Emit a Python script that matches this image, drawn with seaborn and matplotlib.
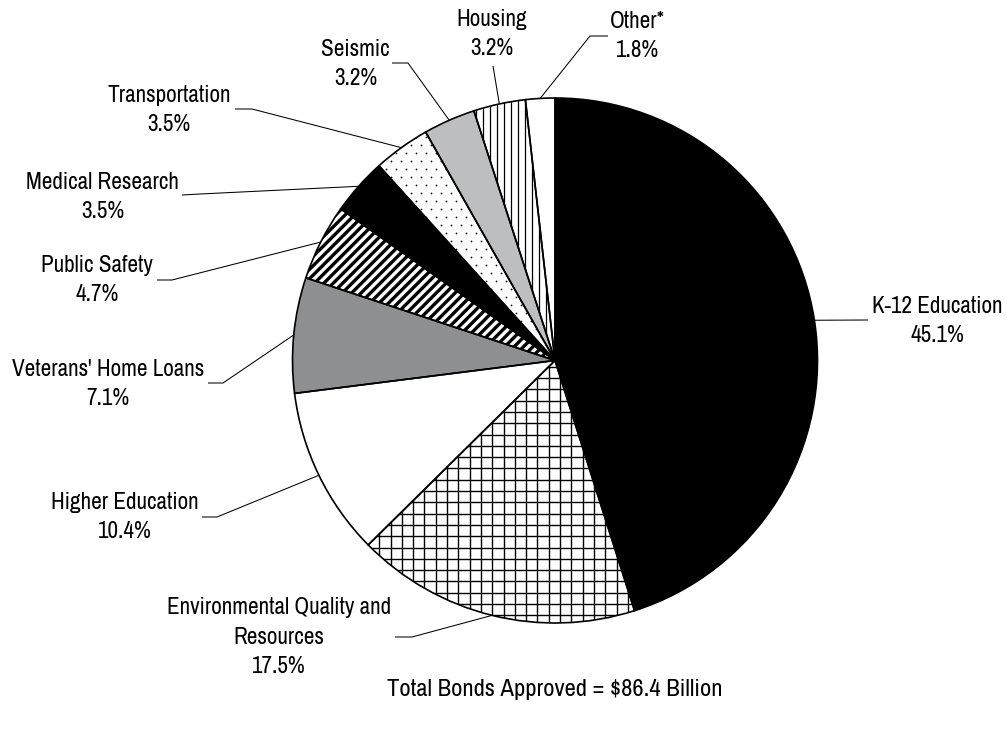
import numpy as np
import matplotlib
matplotlib.use("Agg")
import matplotlib.pyplot as plt
from matplotlib import font_manager
from matplotlib.collections import LineCollection
import seaborn as sns

# Bond approvals by purpose, in percent of total
categories = ["K-12 Education", "Environmental Quality and\nResources", "Higher Education",
              "Veterans' Home Loans", "Public Safety", "Medical Research", "Transportation",
              "Seismic", "Housing", "Other*"]
shares = [45.1, 17.5, 10.4, 7.1, 4.7, 3.5, 3.5, 3.2, 3.2, 1.8]
share_labels = ["45.1%", "17.5%", "10.4%", "7.1%", "4.7%", "3.5%", "3.5%", "3.2%", "3.2%", "1.8%"]
total_note = "Total Bonds Approved = $86.4 Billion"

fills = ["black", "white", "white", "#8d8f90", "white", "black", "white", "#bdbebf", "white", "white"]
patterns = [None, "grid", None, None, "stripes", None, "dots", None, "vlines", None]

sns.set_theme(style="white")

# prefer a narrow sans face when one is installed
fonts = font_manager.fontManager.ttflist
names = {f.name for f in fonts}
narrow = [f for f in fonts
          if ("Narrow" in f.name or "Narrow" in f.fname) and f.style == "normal" and f.weight in (400, "normal")]
if "Liberation Sans Narrow" in names:
    plt.rcParams["font.family"] = ["Liberation Sans Narrow", "DejaVu Sans"]
    FS, LS = 16.7, 1.5
elif narrow:
    plt.rcParams["font.family"] = [narrow[0].name, "DejaVu Sans"]
    FS, LS = 16.7, 1.5
else:
    plt.rcParams["font.family"] = ["Liberation Sans", "DejaVu Sans"]
    FS, LS = 14.7, 1.6

W, H = 1007, 732
CX, CY, R = 555.0, 360.5, 262.5


def px(x, y):
    return (x - CX) / R, (CY - y) / R


fig = plt.figure(figsize=(W / 100, H / 100), dpi=100)
ax = fig.add_axes([0, 0, 1, 1])

wedges, _ = ax.pie(shares, colors=fills, startangle=90, counterclock=False, radius=1,
                   wedgeprops=dict(edgecolor="none", linewidth=0))

# fill patterns clipped to their wedges
unit = 1.0 / R
for w, pat in zip(wedges, patterns):
    if pat is None:
        continue
    if pat == "grid":
        step = 11.3 * unit
        vals = np.arange(-1.1, 1.1, step)
        segs = [[(v, -1.1), (v, 1.1)] for v in vals] + [[(-1.1, v), (1.1, v)] for v in vals]
        lc = LineCollection(segs, colors="black", linewidths=1.0, zorder=3)
    elif pat == "stripes":
        step = 9.4 * unit
        vals = np.arange(-2.5, 2.5, step)
        segs = [[(v - 1.2, -1.2), (v + 1.2, 1.2)] for v in vals]
        lc = LineCollection(segs, colors="black", linewidths=2.4, zorder=3)
    elif pat == "vlines":
        step = 7.0 * unit
        vals = np.arange(-1.1, 1.1, step)
        segs = [[(v, -1.1), (v, 1.1)] for v in vals]
        lc = LineCollection(segs, colors="black", linewidths=0.9, zorder=3)
    elif pat == "dots":
        sx, sy = 10.0 * unit, 8.0 * unit
        pts = []
        for i, yy in enumerate(np.arange(-1.1, 1.1, sy)):
            off = (sx / 2) if i % 2 else 0.0
            for xx in np.arange(-1.1, 1.1, sx):
                pts.append((xx + off, yy))
        pts = np.array(pts)
        sc = ax.scatter(pts[:, 0], pts[:, 1], s=1.6, c="black", linewidths=0, zorder=3)
        sc.set_clip_path(w)
        continue
    ax.add_collection(lc)
    lc.set_clip_path(w)

# wedge outlines on top of the patterns
ax.pie(shares, colors=["none"] * len(shares), startangle=90, counterclock=False, radius=1,
       wedgeprops=dict(edgecolor="black", linewidth=1.2, zorder=4, fill=False))

# label layout: text point (px), alignment, elbow (px), end of horizontal tick (px)
layout = [
    ((872, 321), "left", None, None),
    ((391, 637), "right", (412, 637), (395, 637)),
    ((199, 517), "right", (217, 517), (202, 517)),
    ((204, 384), "right", (223, 383), (208, 383)),
    ((153, 280), "right", (172, 280), (157, 280)),
    ((179, 197), "right", (200, 194), (182, 195)),
    ((231, 110), "right", (252, 109), (235, 109)),
    ((390, 64), "right", (408, 63), (392, 63)),
    ((492, 34), "center", (493, 66), None),
    ((610, 36), "left", (590, 36), (608, 36)),
]

bounds = np.cumsum([0] + shares)
for i, (cat, lab) in enumerate(zip(categories, share_labels)):
    mid = 90 - 360 * (bounds[i] + bounds[i + 1]) / 2 / 100
    ax_pt = (np.cos(np.radians(mid)), np.sin(np.radians(mid)))
    (tx, ty), ha, elbow, end = layout[i]
    if elbow is None:
        pts = [ax_pt, px(tx - 4, ty - 1)]
    else:
        pts = [ax_pt, px(*elbow)]
        if end is not None:
            pts.append(px(*end))
    pts = np.array(pts)
    ax.plot(pts[:, 0], pts[:, 1], color="black", linewidth=0.75, zorder=5, solid_capstyle="butt")
    va = "center"
    if ha == "center":
        va, ty = "bottom", 59
    ax.text(*px(tx, ty), f"{cat}\n{lab}", ha=ha, va=va, multialignment="center",
            fontsize=FS, linespacing=LS, color="black")

ax.text(*px(CX, 690), total_note, ha="center", va="center", fontsize=FS * 1.06, color="black")

ax.set_xlim(-CX / R, (W - CX) / R)
ax.set_ylim(-(H - CY) / R, CY / R)
ax.set_aspect("equal", adjustable="box")
ax.axis("off")
fig.savefig("out.png", dpi=100, facecolor="white")
